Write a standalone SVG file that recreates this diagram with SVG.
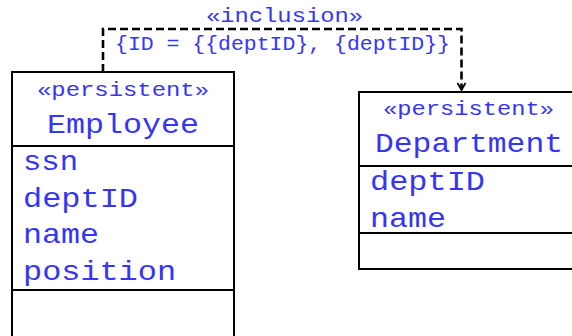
<svg xmlns="http://www.w3.org/2000/svg" width="572" height="336" viewBox="0 0 572 336">
<defs>
<style>
.t{font-family:"Liberation Mono","Courier New",monospace;fill:#3535f5}
.st{font-size:20px}
.nm{font-size:28px}
.box{fill:#fff;stroke:#000;stroke-width:2}
.ln{stroke:#000;stroke-width:2}
.conn{fill:none;stroke:#000;stroke-width:2.6;stroke-dasharray:8 4}
</style>
<marker id="open" viewBox="0 0 10 10" refX="9" refY="5" markerWidth="10" markerHeight="10" markerUnits="userSpaceOnUse" orient="auto">
<path d="M2,1 L9,5 L2,9" fill="none" stroke="#000" stroke-width="1.8"/>
</marker>
</defs>
<g id="connectors">
<path class="conn" d="M103,72 V29 H461.5 V90" marker-end="url(#open)"/>
<text class="t st" x="206" y="22" textLength="157" lengthAdjust="spacingAndGlyphs">«inclusion»</text>
<text class="t st" x="115" y="50" textLength="335" lengthAdjust="spacingAndGlyphs">{ID = {{deptID}, {deptID}}</text>
</g>
<g id="employee">
<rect class="box" x="12" y="72" width="222" height="280"/>
<line class="ln" x1="12" y1="146" x2="234" y2="146"/>
<line class="ln" x1="12" y1="290" x2="234" y2="290"/>
<text class="t st" x="37" y="96" textLength="172" lengthAdjust="spacingAndGlyphs">«persistent»</text>
<text class="t nm" x="47" y="133" textLength="152" lengthAdjust="spacingAndGlyphs">Employee</text>
<text class="t nm" x="23" y="170" textLength="55" lengthAdjust="spacingAndGlyphs">ssn</text>
<text class="t nm" x="23" y="207" textLength="115" lengthAdjust="spacingAndGlyphs">deptID</text>
<text class="t nm" x="23" y="243" textLength="76" lengthAdjust="spacingAndGlyphs">name</text>
<text class="t nm" x="23" y="280" textLength="153" lengthAdjust="spacingAndGlyphs">position</text>
</g>
<g id="department">
<rect class="box" x="359" y="92" width="220" height="177"/>
<line class="ln" x1="359" y1="166" x2="579" y2="166"/>
<line class="ln" x1="359" y1="233" x2="579" y2="233"/>
<text class="t st" x="383" y="115" textLength="171" lengthAdjust="spacingAndGlyphs">«persistent»</text>
<text class="t nm" x="375" y="152" textLength="188" lengthAdjust="spacingAndGlyphs">Department</text>
<text class="t nm" x="370" y="190" textLength="115" lengthAdjust="spacingAndGlyphs">deptID</text>
<text class="t nm" x="370" y="227" textLength="76" lengthAdjust="spacingAndGlyphs">name</text>
</g>
</svg>
